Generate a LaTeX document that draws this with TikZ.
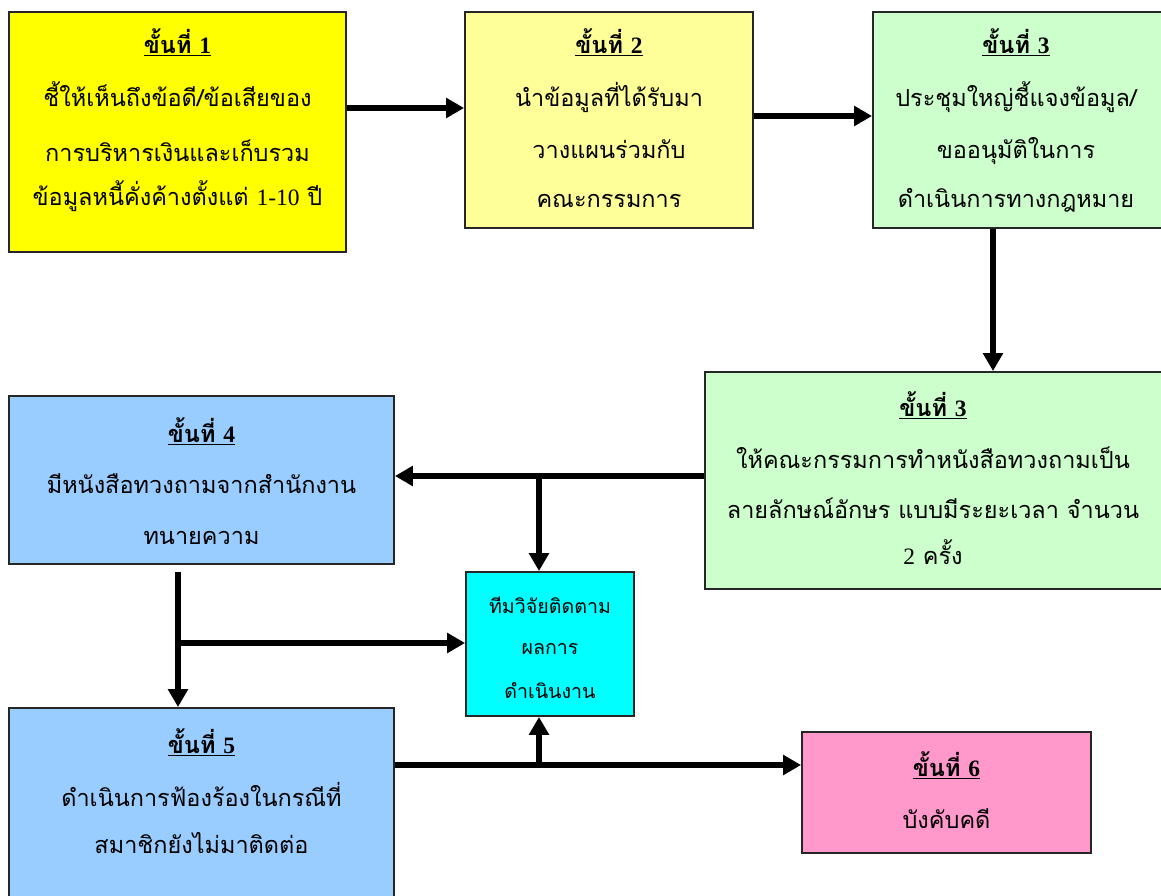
\documentclass[tikz,border=0pt]{standalone}
\usepackage{fontspec}
\setmainfont{Liberation Serif}
\newfontfamily\thai[Script=Thai]{Loma}
\usetikzlibrary{arrows.meta}
\definecolor{cyel}{HTML}{FFFF00}
\definecolor{clyel}{HTML}{FFFF99}
\definecolor{cgreen}{HTML}{CCFFCC}
\definecolor{cblue}{HTML}{99CCFF}
\definecolor{ccyan}{HTML}{00FFFF}
\definecolor{cpink}{HTML}{FF99CC}
\begin{document}
\begin{tikzpicture}[x=0.75pt,y=-0.75pt,
 box/.style={draw=black!85, line width=1.4pt, rectangle, inner sep=0pt},
 ln/.style={font=\thai\fontsize{17.6}{20}\selectfont, text height=13pt, text depth=4pt, inner sep=0pt, anchor=center},
 sm/.style={ln, font=\thai\fontsize{14.7}{17}\selectfont},
 hd/.style={ln, font=\thai\bfseries\fontsize{17.6}{20}\selectfont},
 conn/.style={line width=4.6pt},
 arr/.style={conn, -{Triangle[length=13.5pt,width=14.5pt]}}]
\useasboundingbox (0,0) rectangle (1161,896);
% boxes
\node[box, fill=cyel, minimum width=252.75pt, minimum height=180pt] (s1) at (177.5,132) {};
\node[box, fill=clyel, minimum width=216pt, minimum height=162pt] (s2) at (609,120) {};
\node[box, fill=cgreen, minimum width=222.75pt, minimum height=162pt] (s3) at (1021.5,120) {};
\node[box, fill=cgreen, minimum width=348.75pt, minimum height=162.75pt] (s3b) at (937.5,480.5) {};
\node[box, fill=cblue, minimum width=288.75pt, minimum height=126pt] (s4) at (201.5,480) {};
\node[box, fill=ccyan, minimum width=126pt, minimum height=108pt] (r) at (550,644) {};
\node[box, fill=cblue, minimum width=288.75pt, minimum height=151.5pt] (s5) at (201.5,809) {};
\node[box, fill=cpink, minimum width=216.75pt, minimum height=90.75pt] (s6) at (946.5,792.5) {};
% texts
\node[hd] (t1h) at (177.5,47) {\underline{ขั้นที่ {\rmfamily 1}}};
\node[ln] (t1a) at (177.5,100) {ชี้ให้เห็นถึงข้อดี/ข้อเสียของ};
\node[ln] (t1b) at (177.5,155) {การบริหารเงินและเก็บรวม};
\node[ln] (t1c) at (177.5,199) {ข้อมูลหนี้คั่งค้างตั้งแต่ {\rmfamily 1-10} ปี};
\node[hd] (t2h) at (609,47) {\underline{ขั้นที่ {\rmfamily 2}}};
\node[ln] (t2a) at (609,100) {นำข้อมูลที่ได้รับมา};
\node[ln] (t2b) at (609,152) {วางแผนร่วมกับ};
\node[ln] (t2c) at (609,201) {คณะกรรมการ};
\node[hd] (t3h) at (1016,47) {\underline{ขั้นที่ {\rmfamily 3}}};
\node[ln] (t3a) at (1016,100) {ประชุมใหญ่ชี้แจงข้อมูล/};
\node[ln] (t3b) at (1016,152) {ขออนุมัติในการ};
\node[ln] (t3c) at (1016,201) {ดำเนินการทางกฎหมาย};
\node[hd] (t4h) at (933,410) {\underline{ขั้นที่ {\rmfamily 3}}};
\node[ln] (t4a) at (933,462) {ให้คณะกรรมการทำหนังสือทวงถามเป็น};
\node[ln] (t4b) at (933,512) {ลายลักษณ์อักษร แบบมีระยะเวลา จำนวน};
\node[ln] (t4c) at (933,558) {{\rmfamily 2} ครั้ง};
\node[hd] (t5h) at (201.5,436) {\underline{ขั้นที่ {\rmfamily 4}}};
\node[ln] (t5a) at (201.5,487) {มีหนังสือทวงถามจากสำนักงาน};
\node[ln] (t5b) at (201.5,538) {ทนายความ};
\node[sm] (tra) at (550,607) {ทีมวิจัยติดตาม};
\node[sm] (trb) at (550,648) {ผลการ};
\node[sm] (trc) at (550,692) {ดำเนินงาน};
\node[hd] (t6h) at (201.5,747) {\underline{ขั้นที่ {\rmfamily 5}}};
\node[ln] (t6a) at (201.5,800) {ดำเนินการฟ้องร้องในกรณีที่};
\node[ln] (t6b) at (201.5,847) {สมาชิกยังไม่มาติดต่อ};
\node[hd] (t7h) at (946.5,770) {\underline{ขั้นที่ {\rmfamily 6}}};
\node[ln] (t7a) at (946.5,822) {บังคับคดี};
% junction coordinates
\coordinate (j1) at (539,476);
\coordinate (j2) at (178,572);
\coordinate (j3) at (178,643);
\coordinate (j4) at (539,765);
% connectors
\draw[arr] (s1.east |- 0,108) -- (s2.west |- 0,108);
\draw[arr] (s2.east |- 0,116) -- (s3.west |- 0,116);
\draw[arr] (s3.south -| 993,0) -- (s3b.north -| 993,0);
\draw[arr] (s3b.west |- j1) -- (s4.east |- j1);
\draw[arr] (j1) -- (r.north -| j1);
\draw[arr] (j2) -- (s5.north -| j2);
\draw[arr] (j3) -- (r.west |- j3);
\draw[arr] (s5.east |- j4) -- (s6.west |- j4);
\draw[arr] (j4) -- (r.south -| j4);
\end{tikzpicture}
\end{document}
